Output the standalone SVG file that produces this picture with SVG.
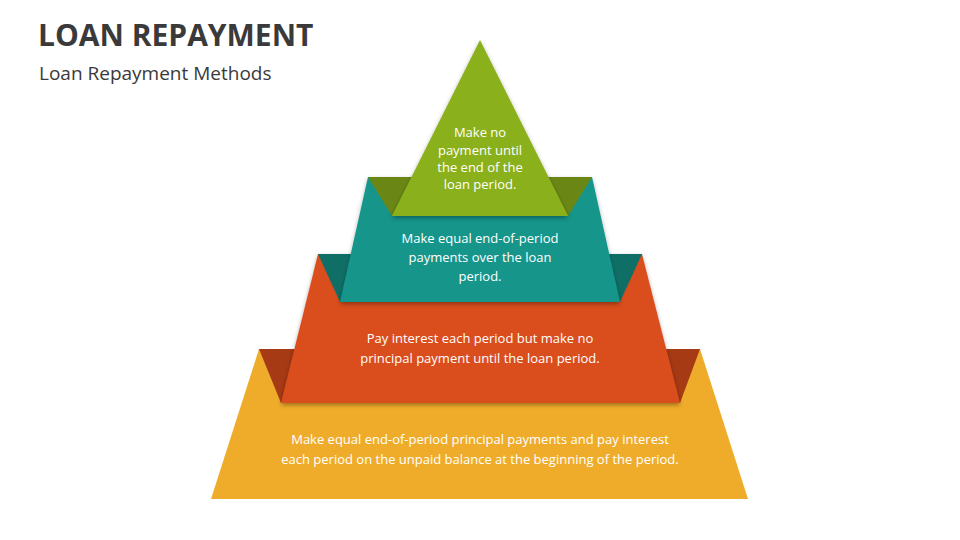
<svg xmlns="http://www.w3.org/2000/svg" width="960" height="540" viewBox="0 0 960 540">
<defs>
<filter id="sh" x="-10%" y="-10%" width="120%" height="130%"><feDropShadow dx="0" dy="2" stdDeviation="2" flood-color="#000" flood-opacity="0.35"/></filter>
</defs>
<style>
.t{font-family:"Open Sans","Liberation Sans",sans-serif;font-size:13px;fill:#fff;text-anchor:middle}
.title{font-family:"Open Sans","Liberation Sans",sans-serif;font-weight:bold;font-size:30px;fill:#3a3a3a}
.sub{font-family:"Open Sans","Liberation Sans",sans-serif;font-size:19px;fill:#3a3a3a}
</style>
<rect width="960" height="540" fill="#fff"/>
<text class="title" x="38" y="46">LOAN REPAYMENT</text>
<text class="sub" x="39" y="80">Loan Repayment Methods</text>
<g id="level4">
<polygon points="259,349 700,349 748,499 211,499" fill="#EFAC2A"/>
<polygon points="259,349 700,349 680,403 281,403" fill="#A63A14"/>
<text class="t" x="480" y="444">Make equal end-of-period principal payments and pay interest</text>
<text class="t" x="480" y="464">each period on the unpaid balance at the beginning of the period.</text>
</g>
<g id="level3">
<polygon points="318,254 642,254 680,403 281,403" fill="#DA4D1C" filter="url(#sh)"/>
<polygon points="318,254 642,254 620,302 340,302" fill="#0F6F67"/>
<text class="t" x="480" y="343">Pay interest each period but make no</text>
<text class="t" x="480" y="363">principal payment until the loan period.</text>
</g>
<g id="level2">
<polygon points="368,177 592,177 620,302 340,302" fill="#13958B" filter="url(#sh)"/>
<polygon points="368,177 592,177 568,216 392,216" fill="#6A8716"/>
<text class="t" x="480" y="243">Make equal end-of-period</text>
<text class="t" x="480" y="262">payments over the loan</text>
<text class="t" x="480" y="281">period.</text>
</g>
<g id="level1">
<polygon points="480,40 568,216 392,216" fill="#8AB01A" filter="url(#sh)"/>
<text class="t" x="480" y="137" font-size="12">Make no</text>
<text class="t" x="480" y="155" font-size="12">payment until</text>
<text class="t" x="480" y="172" font-size="12">the end of the</text>
<text class="t" x="480" y="189" font-size="12">loan period.</text>
</g>
<g id="connectors"/>
</svg>
